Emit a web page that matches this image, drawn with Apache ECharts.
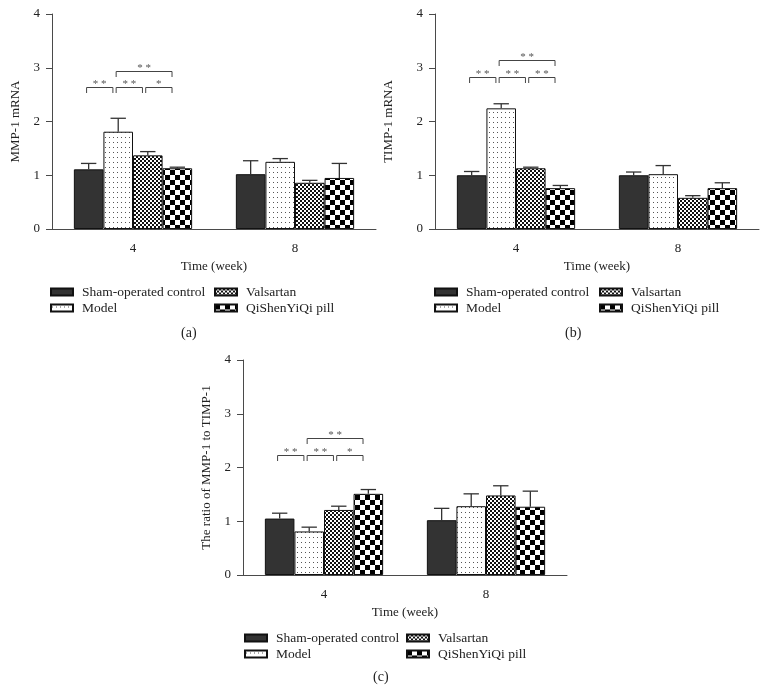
<!DOCTYPE html>
<html><head><meta charset="utf-8">
<script src="https://cdn.jsdelivr.net/npm/echarts@6/dist/echarts.min.js"></script>
<style>html,body{margin:0;padding:0;background:#fff}#c{width:767px;height:695px}</style>
</head><body><div id="c"></div>
<script>
// ---------- data ----------
const categories = ['4', '8'];
const groupNames = ['Sham-operated control', 'Model', 'Valsartan', 'QiShenYiQi pill'];
const yTickMax = 4;

// (a) MMP-1 mRNA
const mmpSham = [1.11, 1.02];
const mmpModel = [1.81, 1.25];
const mmpValsartan = [1.37, 0.86];
const mmpQiShen = [1.13, 0.95];
const mmpShamSD = [0.11, 0.25];
const mmpModelSD = [0.25, 0.06];
const mmpValsartanSD = [0.07, 0.045];
const mmpQiShenSD = [0.02, 0.27];
const mmpBrackets = [[0, 1], [1, 2], [2, 3], [1, 3]];
const mmpBracketLevels = [2.65, 2.65, 2.65, 2.94];
const mmpBracketLabels = ['**', '**', '*', '**'];

// (b) TIMP-1 mRNA
const timpSham = [1.00, 1.00];
const timpModel = [2.245, 1.02];
const timpValsartan = [1.13, 0.58];
const timpQiShen = [0.76, 0.76];
const timpShamSD = [0.07, 0.06];
const timpModelSD = [0.085, 0.16];
const timpValsartanSD = [0.02, 0.04];
const timpQiShenSD = [0.05, 0.10];
const timpBrackets = [[0, 1], [1, 2], [2, 3], [1, 3]];
const timpBracketLevels = [2.83, 2.83, 2.83, 3.14];
const timpBracketLabels = ['**', '**', '**', '**'];

// (c) ratio MMP-1 / TIMP-1
const ratioSham = [1.05, 1.02];
const ratioModel = [0.81, 1.28];
const ratioValsartan = [1.21, 1.48];
const ratioQiShen = [1.51, 1.27];
const ratioShamSD = [0.10, 0.22];
const ratioModelSD = [0.08, 0.23];
const ratioValsartanSD = [0.07, 0.18];
const ratioQiShenSD = [0.08, 0.29];
const ratioBrackets = [[0, 1], [1, 2], [2, 3], [1, 3]];
const ratioBracketLevels = [2.24, 2.24, 2.24, 2.54];
const ratioBracketLabels = ['**', '**', '*', '**'];

// ---------- styling ----------
const FONT = '"Liberation Serif", "Times New Roman", serif';
const AXIS_COLOR = '#4a4a4a';
const TEXT_COLOR = '#222';
const CAT_GAP = 0.27;
const BAR_FRAC = 1 - CAT_GAP;

function makePattern(w, h, draw) {
  const c = document.createElement('canvas');
  c.width = w; c.height = h;
  const ctx = c.getContext('2d');
  ctx.fillStyle = '#fff'; ctx.fillRect(0, 0, w, h);
  draw(ctx);
  return c;
}
const dotPat = makePattern(4, 5, ctx => { ctx.fillStyle = '#555'; ctx.fillRect(1, 2, 1, 1); });
const fineCheck = makePattern(4, 4, ctx => { ctx.fillStyle = '#111'; ctx.fillRect(0, 0, 2, 2); ctx.fillRect(2, 2, 2, 2); });
const bigCheck = makePattern(10, 10, ctx => { ctx.fillStyle = '#000'; ctx.fillRect(0, 0, 5, 5); ctx.fillRect(5, 5, 5, 5); });
const groupFills = ['#333333', { image: dotPat, repeat: 'repeat' }, { image: fineCheck, repeat: 'repeat' }, { image: bigCheck, repeat: 'repeat' }];

const panels = [
  { name: 'MMP-1 mRNA', nameGap: 30, grid: { left: 52, top: 14 }, label: '(a)', labelPos: [190, 334],
    legendTop: 284, legendX: [50, 214],
    vals: [mmpSham, mmpModel, mmpValsartan, mmpQiShen], sds: [mmpShamSD, mmpModelSD, mmpValsartanSD, mmpQiShenSD],
    br: mmpBrackets, brLv: mmpBracketLevels, brLb: mmpBracketLabels },
  { name: 'TIMP-1 mRNA', nameGap: 40, grid: { left: 435, top: 14 }, label: '(b)', labelPos: [574, 334],
    legendTop: 284, legendX: [434, 599],
    vals: [timpSham, timpModel, timpValsartan, timpQiShen], sds: [timpShamSD, timpModelSD, timpValsartanSD, timpQiShenSD],
    br: timpBrackets, brLv: timpBracketLevels, brLb: timpBracketLabels },
  { name: 'The ratio of MMP-1 to TIMP-1', nameGap: 30, grid: { left: 243, top: 360 }, label: '(c)', labelPos: [382, 678],
    legendTop: 630, legendX: [244, 406],
    vals: [ratioSham, ratioModel, ratioValsartan, ratioQiShen], sds: [ratioShamSD, ratioModelSD, ratioValsartanSD, ratioQiShenSD],
    br: ratioBrackets, brLv: ratioBracketLevels, brLb: ratioBracketLabels }
];

const grids = [], xAxes = [], yAxes = [], series = [], legends = [], graphics = [];

panels.forEach((p, pi) => {
  grids.push({ left: p.grid.left, top: p.grid.top, width: 324, height: 215, outerBoundsMode: 'none', containLabel: false });
  xAxes.push({
    type: 'category', gridIndex: pi, data: categories,
    name: 'Time (week)', nameLocation: 'middle', nameGap: 31,
    nameTextStyle: { fontFamily: FONT, fontSize: 13, color: TEXT_COLOR },
    axisLine: { lineStyle: { color: AXIS_COLOR, width: 1 } },
    axisTick: { alignWithLabel: true, length: 6, lineStyle: { color: AXIS_COLOR } },
    axisLabel: { fontFamily: FONT, fontSize: 13, color: TEXT_COLOR, margin: 13 },
    splitLine: { show: false }
  });
  yAxes.push({
    type: 'value', gridIndex: pi, min: 0, max: yTickMax, interval: 1,
    name: p.name, nameLocation: 'middle', nameGap: p.nameGap, nameRotate: 90,
    nameTextStyle: { fontFamily: FONT, fontSize: 13, color: TEXT_COLOR },
    axisLine: { show: true, lineStyle: { color: AXIS_COLOR, width: 1 } },
    axisTick: { show: true, length: 6, lineStyle: { color: AXIS_COLOR } },
    axisLabel: { fontFamily: FONT, fontSize: 13, color: TEXT_COLOR, margin: 12 },
    splitLine: { show: false }
  });
  groupNames.forEach((g, gi) => {
    series.push({
      type: 'bar', name: g, xAxisIndex: pi, yAxisIndex: pi, data: p.vals[gi],
      barGap: '0%', barCategoryGap: (CAT_GAP * 100) + '%',
      itemStyle: { color: groupFills[gi], borderColor: '#111', borderWidth: 1 },
      emphasis: { disabled: true }, animation: false, z: 2
    });
  });
  // error bars
  const errData = [];
  groupNames.forEach((g, gi) => categories.forEach((c, ci) => {
    errData.push([ci, gi, p.vals[gi][ci], p.sds[gi][ci]]);
  }));
  series.push({
    type: 'custom', xAxisIndex: pi, yAxisIndex: pi, data: errData, z: 5, animation: false, silent: true,
    encode: { x: 0, y: 2 },
    renderItem: (params, api) => {
      const ci = api.value(0), gi = api.value(1), v = api.value(2), sd = api.value(3);
      const bandW = api.size([1, 0])[0];
      const barW = bandW * BAR_FRAC / 4;
      const cx = api.coord([ci, 0])[0] + (gi - 1.5) * barW;
      const yTop = api.coord([ci, v])[1];
      const yErr = api.coord([ci, v + sd])[1];
      const cap = barW * 0.26;
      return { type: 'group', children: [
        { type: 'line', shape: { x1: cx, y1: yTop, x2: cx, y2: yErr }, style: { stroke: '#333', lineWidth: 1.3 } },
        { type: 'line', shape: { x1: cx - cap, y1: yErr, x2: cx + cap, y2: yErr }, style: { stroke: '#333', lineWidth: 1.3 } }
      ] };
    }
  });
  // significance brackets (at week 4)
  const brData = p.br.map((b, k) => [0, b[0], b[1], p.brLv[k]]);
  series.push({
    type: 'custom', xAxisIndex: pi, yAxisIndex: pi, data: brData, z: 6, animation: false, silent: true,
    encode: { x: 0, y: 3 },
    renderItem: (params, api) => {
      const i = api.value(1), j = api.value(2), lv = api.value(3);
      const bandW = api.size([1, 0])[0];
      const barW = bandW * BAR_FRAC / 4;
      const base = api.coord([api.value(0), lv]);
      const y = Math.round(base[1]) + 0.5;
      const x1 = base[0] + (i - 1.5) * barW - 0.07 * barW;
      const x2 = base[0] + (j - 1.5) * barW - 0.18 * barW;
      const txt = p.brLb[params.dataIndex].split('').join(' ');
      return { type: 'group', children: [
        { type: 'polyline', shape: { points: [[x1, y + 5.5], [x1, y], [x2, y], [x2, y + 5.5]] },
          style: { stroke: '#444', lineWidth: 1, fill: 'none' } },
        { type: 'text', style: { x: (x1 + x2) / 2, y: y + 2, text: txt, align: 'center', verticalAlign: 'bottom',
          fontFamily: FONT, fontSize: 11, fill: '#555' } }
      ] };
    }
  });
  // legends: two columns
  [[groupNames[0], groupNames[1]], [groupNames[2], groupNames[3]]].forEach((names, col) => {
    legends.push({
      data: names, orient: 'vertical', left: p.legendX[col], top: p.legendTop, padding: 0,
      itemGap: 0, itemWidth: 22, itemHeight: 7, icon: 'rect', selectedMode: false,
      textStyle: { fontFamily: FONT, fontSize: 13.5, color: TEXT_COLOR, lineHeight: 16, padding: [0, 0, 0, 4] }
    });
  });
  graphics.push({ type: 'text', left: p.labelPos[0] - 9, top: p.labelPos[1] - 8,
    style: { text: p.label, fontFamily: FONT, fontSize: 14, fill: TEXT_COLOR } });
});

const chart = echarts.init(document.getElementById('c'), null, { renderer: 'canvas' });
chart.setOption({
  animation: false,
  backgroundColor: '#fff',
  grid: grids, xAxis: xAxes, yAxis: yAxes, series: series, legend: legends, graphic: graphics
});
</script></body></html>
